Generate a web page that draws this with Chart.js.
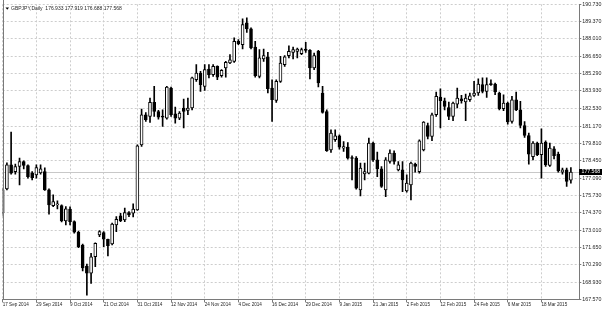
<!DOCTYPE html>
<html><head><meta charset="utf-8">
<script src="https://cdn.jsdelivr.net/npm/chart.js@4/dist/chart.umd.min.js"></script>
<style>html,body{margin:0;padding:0;background:#fff;overflow:hidden}canvas{display:block}</style>
</head><body>
<canvas id="c" width="606" height="311"></canvas>
<script>
const symbolTitle = 'GBPJPY,Daily';
const opens = [174.36,176.24,178.13,177.60,178.00,178.39,178.08,177.48,177.34,177.50,
177.60,176.17,174.93,174.99,174.93,173.73,174.65,173.67,172.84,171.84,
170.19,169.62,170.92,172.63,172.81,172.29,171.92,173.41,174.12,173.81,
174.38,174.33,174.59,179.70,182.06,181.93,183.03,182.32,181.90,181.80,
184.16,182.14,181.80,182.59,182.40,182.59,184.81,185.34,184.29,185.65,
185.21,185.86,185.13,185.73,186.12,186.25,187.82,187.56,189.27,188.80,
187.38,185.07,186.44,186.60,184.16,183.18,184.68,185.99,186.70,186.96,
187.04,186.86,187.22,187.11,185.73,187.04,183.77,182.32,179.31,180.10,
180.41,179.44,179.52,178.68,178.66,176.17,177.42,177.48,179.84,178.52,
177.82,176.17,178.39,179.05,177.74,177.74,176.09,176.56,178.19,177.60,
179.31,181.22,180.36,182.06,183.45,183.16,182.63,181.93,182.90,183.32,
183.06,183.24,183.58,183.77,184.42,183.89,184.47,184.47,183.77,182.53,
182.98,181.53,183.24,182.45,181.22,180.43,178.78,179.84,178.92,179.92,
178.08,179.39,178.97,177.56,177.74,176.933];
const highs = [176.32,178.29,180.70,178.19,178.66,178.45,178.13,177.60,178.13,178.13,
177.90,176.24,175.77,175.30,174.99,174.85,174.83,173.73,172.94,171.92,
170.35,171.19,172.00,172.97,172.89,172.31,173.55,174.07,174.33,174.73,
174.46,175.07,179.70,182.51,182.24,183.37,184.29,182.41,182.45,184.29,
184.24,182.67,182.32,183.30,183.37,185.02,185.99,185.46,185.99,185.99,
185.99,185.91,185.60,186.25,186.78,188.09,187.96,189.58,189.66,188.88,
187.82,187.17,187.22,186.96,184.81,184.81,186.64,186.70,187.48,187.38,
187.30,187.30,187.74,187.17,186.91,187.11,184.29,182.45,180.88,180.88,
180.49,179.96,179.88,178.84,178.78,178.26,178.26,180.23,179.92,179.13,
178.00,178.70,179.31,179.23,178.39,178.39,177.34,178.34,178.26,180.10,
181.53,181.41,182.19,183.85,184.10,183.37,183.06,183.06,184.16,183.58,
183.69,183.77,184.68,184.89,184.95,184.95,184.81,184.55,183.85,183.63,
183.06,183.50,183.85,183.11,181.53,180.62,179.96,179.92,180.96,180.02,
179.84,179.57,179.13,177.87,177.87,177.919];
const lows = [174.12,176.17,177.40,177.40,176.56,177.82,177.09,176.95,177.09,177.40,
176.13,174.26,174.85,174.67,173.65,173.41,173.41,172.76,171.63,169.80,
167.91,168.83,170.14,172.50,171.71,170.98,171.84,172.89,173.67,173.67,
174.07,174.04,174.55,179.57,181.53,181.46,181.93,181.72,181.14,181.72,
181.93,181.41,181.67,181.02,182.06,182.45,184.68,183.89,183.97,184.95,
185.07,184.81,185.02,185.02,186.07,186.17,187.56,187.22,188.53,187.22,
185.02,184.95,186.25,183.77,181.53,183.03,184.60,185.86,186.52,186.44,
186.52,186.78,186.96,184.87,185.60,184.24,182.19,179.18,179.10,179.96,
179.37,179.18,178.58,176.95,176.22,175.69,176.95,177.42,178.39,177.21,
176.35,175.64,178.26,178.19,177.66,176.03,175.99,175.38,177.56,177.48,
179.23,180.17,180.02,181.93,181.02,182.45,181.67,181.59,182.59,182.98,
181.59,183.11,183.50,183.58,183.77,183.42,184.36,183.63,182.45,182.38,
181.33,181.41,182.38,181.02,180.28,178.19,178.52,178.86,177.09,178.00,
178.00,178.60,177.56,177.40,176.43,176.688];
const closes = [176.17,178.13,177.48,178.00,178.39,178.08,177.21,177.13,177.92,177.82,
176.17,174.99,175.25,175.03,173.73,174.67,173.67,172.84,171.71,170.04,
169.62,170.92,171.98,172.89,172.29,171.79,173.49,173.86,173.75,174.38,
174.20,174.65,179.62,182.06,181.67,183.03,182.32,181.88,181.88,184.24,
182.06,181.80,182.19,182.32,182.59,184.95,185.34,184.42,185.60,185.21,
185.86,185.02,185.54,186.17,186.38,187.82,187.64,189.13,188.80,187.30,
185.13,186.52,186.70,184.10,183.24,184.68,186.12,186.60,187.04,187.17,
187.22,187.17,187.11,185.73,186.70,184.55,182.24,179.25,180.62,180.41,
179.52,179.57,178.66,178.63,176.30,177.87,177.60,179.84,178.52,177.82,
176.43,178.52,179.05,178.39,178.13,176.95,176.69,178.26,178.00,180.02,
181.49,180.36,182.06,183.50,183.16,182.71,181.93,182.98,183.37,183.16,
183.37,183.55,183.77,184.47,183.89,184.42,184.42,183.85,182.53,182.98,
181.49,183.24,182.45,181.22,180.43,178.97,179.84,178.92,179.84,178.13,
179.44,178.86,177.66,177.74,176.82,177.568];
const tickDates = ['17 Sep 2014','29 Sep 2014','9 Oct 2014','21 Oct 2014','31 Oct 2014',
'12 Nov 2014','24 Nov 2014','4 Dec 2014','16 Dec 2014','29 Dec 2014','9 Jan 2015',
'21 Jan 2015','2 Feb 2015','12 Feb 2015','24 Feb 2015','6 Mar 2015','18 Mar 2015'];
const yTickValues = [190.73,189.37,188.01,186.65,185.29,183.93,182.53,181.17,179.81,
178.45,177.09,175.73,174.37,173.01,171.65,170.29,168.93,167.57];
const holidays = ['2014-12-25','2015-01-01'];
const firstDay = '2014-09-17';
const emptySlots = 2;

const monthNames = ['Jan','Feb','Mar','Apr','May','Jun','Jul','Aug','Sep','Oct','Nov','Dec'];
function buildCategories(){
  const out = [];
  const d = new Date(firstDay + 'T00:00:00Z');
  while (out.length < opens.length) {
    const iso = d.toISOString().slice(0,10);
    const wd = d.getUTCDay();
    if (wd !== 0 && wd !== 6 && !holidays.includes(iso)) {
      out.push(d.getUTCDate() + ' ' + monthNames[d.getUTCMonth()] + ' ' + d.getUTCFullYear());
    }
    d.setUTCDate(d.getUTCDate() + 1);
  }
  for (let i = 0; i < emptySlots; i++) out.push('');
  return out;
}
const categories = buildCategories();

const FONT = "'Liberation Sans', Arial, sans-serif";
const AXIS = '#7a7a7a';
const GRID = '#cdcdcd';
const TEXT = '#262626';

const overlay = {
  id: 'overlay',
  beforeDatasetsDraw(chart) {
    const {ctx, chartArea: a, scales: {y}} = chart;
    const py = Math.round(y.getPixelForValue(closes[closes.length - 1])) + 0.5;
    ctx.save();
    ctx.strokeStyle = '#c8c8c8';
    ctx.lineWidth = 1;
    ctx.beginPath(); ctx.moveTo(a.left, py); ctx.lineTo(a.right, py); ctx.stroke();
    ctx.restore();
  },
  afterDraw(chart) {
    const {ctx, chartArea: a, scales: {y}} = chart;
    ctx.save();
    ctx.strokeStyle = AXIS; ctx.lineWidth = 1;
    const lx = Math.round(a.left) + 0.5;
    ctx.beginPath(); ctx.moveTo(lx, 0); ctx.lineTo(lx, a.bottom); ctx.stroke();
    const last = closes[closes.length - 1];
    const py = Math.round(y.getPixelForValue(last));
    ctx.fillStyle = '#000';
    ctx.fillRect(Math.round(a.right), py - 3, 23, 6);
    ctx.fillStyle = '#fff';
    ctx.font = '5.2px ' + FONT;
    ctx.textBaseline = 'middle'; ctx.textAlign = 'left';
    ctx.fillText(last.toFixed(3), Math.round(a.right) + 2.5, py);
    ctx.fillStyle = '#000';
    ctx.beginPath(); ctx.moveTo(5.5, 7.5); ctx.lineTo(9, 7.5); ctx.lineTo(7.25, 9.7); ctx.closePath(); ctx.fill();
    ctx.fillStyle = TEXT;
    ctx.font = '5px ' + FONT;
    const i = opens.length - 1;
    ctx.fillText(symbolTitle + '  ' + opens[i].toFixed(3) + ' ' + highs[i].toFixed(3) + ' ' + lows[i].toFixed(3) + ' ' + closes[i].toFixed(3), 11, 8.7);
    ctx.restore();
  }
};

new Chart(document.getElementById('c'), {
  type: 'bar',
  data: {
    labels: categories,
    datasets: [
      {
        label: 'body',
        data: opens.map((o, i) => [o, closes[i]]),
        backgroundColor: opens.map((o, i) => closes[i] >= o ? '#ffffff' : '#000000'),
        borderColor: '#000000',
        borderWidth: 1,
        borderSkipped: false,
        barThickness: 3,
        grouped: false,
        minBarLength: 1
      },
      {
        label: 'wick',
        data: lows.map((l, i) => [l, highs[i]]),
        backgroundColor: '#000000',
        borderWidth: 0,
        barThickness: 1,
        grouped: false
      }
    ]
  },
  options: {
    responsive: false,
    animation: false,
    devicePixelRatio: 1,
    events: [],
    layout: { padding: { left: 2.7, top: 4.3, right: 0, bottom: 0 } },
    plugins: { legend: { display: false }, tooltip: { enabled: false }, title: { display: false } },
    scales: {
      x: {
        type: 'category',
        offset: false,
        grid: { display: true, offset: false, color: GRID, tickColor: AXIS, tickLength: 3, drawTicks: true },
        border: { display: true, color: AXIS, width: 1, dash: [2, 2] },
        ticks: {
          autoSkip: false, maxRotation: 0, minRotation: 0, align: 'start',
          padding: 0, color: TEXT, font: { family: FONT, size: 4.6 }
        },
        afterBuildTicks(scale) {
          scale.ticks = scale.ticks.filter(t => tickDates.includes(categories[t.value]));
        },
        afterFit(scale) { scale.height = 11.6; }
      },
      y: {
        position: 'right',
        min: 167.57,
        max: 190.73,
        grid: { display: true, color: GRID, tickColor: AXIS, tickLength: 2, drawTicks: true },
        border: { display: true, color: AXIS, width: 1, dash: [2, 2] },
        ticks: {
          padding: 1, color: TEXT, font: { family: FONT, size: 5.3 },
          callback: v => Number(v).toFixed(3)
        },
        afterBuildTicks(scale) {
          scale.ticks = yTickValues.map(v => ({ value: v }));
        },
        afterFit(scale) { scale.width = 26.7; }
      }
    }
  },
  plugins: [overlay]
});
</script>
</body></html>
